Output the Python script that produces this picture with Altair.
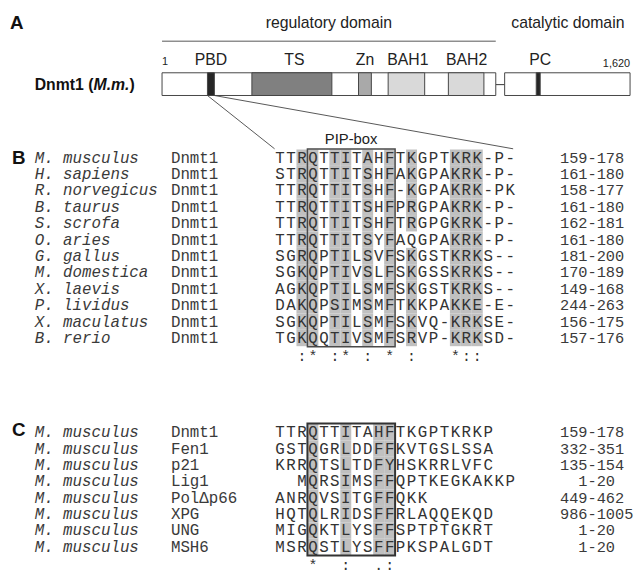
import altair as alt
import pandas as pd

# ---------------- layout constants (page pixel coordinates) ----------------
W, H = 634, 565
xs = alt.Scale(domain=[8, 642], range=[0, W], nice=False, zero=False)
ys = alt.Scale(domain=[8, 573], range=[0, H], nice=False, zero=False)
SANS = "Liberation Sans"
MONO = "Liberation Mono"
INK = "#333333"

# ---------------- Panel A: Dnmt1 domain map ----------------
region_labels = ["regulatory domain", "catalytic domain"]
region_x = [333, 575]
region_y = [20, 20]

seg_names = ["N-part", "C-part", "PBD", "TS", "Zn", "BAH1", "BAH2", "PC"]
seg_start = [164, 511, 210, 255, 363, 393, 454, 543]
seg_end = [502, 638, 217, 336, 376, 430, 490, 547]
seg_fill = ["#ffffff", "#ffffff", "#262626", "#808080", "#a9a9a9", "#d9d9d9", "#d9d9d9", "#262626"]
seg_top, seg_bottom = 70, 93

dom_names = ["PBD", "TS", "Zn", "BAH1", "BAH2", "PC"]
dom_label_x = [213.5, 298, 369.5, 413, 472.5, 547]
dom_label_y = 57

end_labels = ["1", "1,620"]
end_x = [164, 638]
end_y = [59, 61]

# ---------------- Panel B: Dnmt1 orthologues ----------------
B_species = ["M. musculus", "H. sapiens", "R. norvegicus", "B. taurus", "S. scrofa",
             "O. aries", "G. gallus", "M. domestica", "X. laevis", "P. lividus",
             "X. maculatus", "B. rerio"]
B_genes = ["Dnmt1"] * 12
B_seqs = ["TTRQTTITAHFTKGPTKRK-P-", "STRQTTITSHFAKGPAKRK-P-", "TTRQTTITSHF-KGPAKRK-PK",
          "TTRQTTITSHFPRGPAKRK-P-", "TTRQTTITSHFTRGPGKRK-P-", "TTRQTTITSYFAQGPAKRK-P-",
          "SGRQPTILSVFSKGSTKRKS--", "SGKQPTIVSLFSKGSSKRKS--", "AGKQPTILSMFSKGSTKRKS--",
          "DAKQPSIMSMFTKKPAKKE-E-", "SGKQPTILSMFSKVQ-KRKSE-", "TGKQQTIVSMFSRVP-KRKSD-"]
B_ranges = ["159-178", "161-180", "158-177", "161-180", "162-181", "161-180",
            "181-200", "170-189", "149-168", "244-263", "156-175", "157-176"]
B_range_indent = [0] * 12
B_cons = "  :* :* : * :   *::"
B_shaded_cols = [2, 3, 5, 6, 8, 10, 12, 16, 17, 18]
B_unshaded = [(5, 12)]

# ---------------- Panel C: mouse PIP-box proteins ----------------
C_species = ["M. musculus"] * 8
C_genes = ["Dnmt1", "Fen1", "p21", "Lig1", "Pol\u0394p66", "XPG", "UNG", "MSH6"]
C_seqs = ["TTRQTTITAHFTKGPTKRKP", "GSTQGRLDDFFKVTGSLSSA", "KRRQTSLTDFYHSKRRLVFC",
          "  MQRSIMSFFQPTKEGKAKKP", "ANRQVSITGFFQKK", "HQTQLRIDSFFRLAQQEKQD",
          "MIGQKTLYSFFSPTPTGKRT", "MSRQSTLYSFFPKSPALGDT"]
C_ranges = ["159-178", "332-351", "135-154", "1-20", "449-462", "986-1005", "1-20", "1-20"]
C_range_indent = [0, 0, 0, 2, 0, 0, 2, 2]
C_cons = "   *  :  .:"
C_shaded_cols = [3, 6, 9, 10]

# ---------------- alignment geometry ----------------
COL0, PITCH = 283.5, 11.1
SPEC_X, GENE_X, RANGE_X, RANGE_PITCH = 35, 173, 567, 9.3
B_Y0, B_DY = 156.0, 16.6
C_Y0, C_DY = 434.0, 16.6
BOX_C1, BOX_C2 = 3, 10


def col_x(c):
    return COL0 + PITCH * c


def X(f="x"):
    return alt.X(f"{f}:Q", scale=xs, axis=None)


def Y(f="y"):
    return alt.Y(f"{f}:Q", scale=ys, axis=None)


def text_layer(df, align="left", size=16, font=MONO, style="normal", weight="normal", color=INK):
    return alt.Chart(df).mark_text(align=align, baseline="middle", font=font, fontSize=size,
                                   fontStyle=style, fontWeight=weight, color=color).encode(
        x=X(), y=Y(), text="t:N")


layers = []

# Panel A: region line + labels
layers.append(alt.Chart(pd.DataFrame({"x": [164], "x2": [502], "y": [38]})).mark_rule(
    color="#555555", strokeWidth=1).encode(x=X(), x2="x2:Q", y=Y()))
layers.append(text_layer(pd.DataFrame({"t": region_labels, "x": region_x, "y": region_y}),
                         align="center", size=16, font=SANS, color="#222222"))
layers.append(text_layer(pd.DataFrame({"t": dom_names, "x": dom_label_x, "y": [dom_label_y] * 6}),
                         align="center", size=16, font=SANS, color="#222222"))
layers.append(text_layer(pd.DataFrame({"t": end_labels[:1], "x": end_x[:1], "y": end_y[:1]}),
                         align="left", size=11, font=SANS, color="#222222"))
layers.append(text_layer(pd.DataFrame({"t": end_labels[1:], "x": end_x[1:], "y": end_y[1:]}),
                         align="right", size=11, font=SANS, color="#222222"))

# connector between the two halves
layers.append(alt.Chart(pd.DataFrame({"x": [502], "x2": [511], "y": [82]})).mark_rule(
    color="#333333", strokeWidth=1).encode(x=X(), x2="x2:Q", y=Y()))

# domain segments
seg_df = pd.DataFrame({"name": seg_names, "x": seg_start, "x2": seg_end, "fill": seg_fill,
                       "y": [seg_top] * 8, "y2": [seg_bottom] * 8})
layers.append(alt.Chart(seg_df).mark_rect(stroke="#444444", strokeWidth=1).encode(
    x=X(), x2="x2:Q", y=Y(), y2="y2:Q", fill=alt.Fill("fill:N", scale=None)))

# zoom lines from PBD to PIP-box alignment
zl = pd.DataFrame({"x": [seg_start[2], seg_end[2]], "y": [seg_bottom, seg_bottom],
                   "x2": [col_x(0) - 5.5, col_x(21) + 3], "y2": [147, 147]})
layers.append(alt.Chart(zl).mark_rule(color="#444444", strokeWidth=0.9).encode(
    x=X(), y=Y(), x2="x2:Q", y2="y2:Q"))

# panel letters
layers.append(text_layer(pd.DataFrame({"t": ["A", "B", "C"], "x": [10, 12, 12], "y": [20, 156, 432]}),
                         align="left", size=19, font=SANS, weight="bold", color="#111111"))

# Dnmt1 (M.m.)
layers.append(text_layer(pd.DataFrame({"t": ["Dnmt1 (", ")"], "x": [35, 131], "y": [82, 82]}),
                         align="left", size=16, font=SANS, weight="bold", color="#111111"))
layers.append(text_layer(pd.DataFrame({"t": ["M.m."], "x": [94.6], "y": [82]}),
                         align="left", size=16, font=SANS, weight="bold", style="italic", color="#111111"))

# PIP-box label
layers.append(text_layer(pd.DataFrame({"t": ["PIP-box"], "x": [355.5], "y": [137]}),
                         align="center", size=15, font=SANS, color="#222222"))


# ---------------- alignment tables ----------------
def alignment(species, genes, seqs, ranges, indent, cons, shaded_cols, unshaded, y0, dy, box_w, box_col):
    n = len(seqs)
    ys_ = [y0 + dy * i for i in range(n)]
    sh = []
    for i in range(n):
        for c in shaded_cols:
            if (i, c) in unshaded:
                continue
            sh.append({"x": col_x(c) - PITCH / 2, "x2": col_x(c) + PITCH / 2,
                       "y": ys_[i] - dy / 2, "y2": ys_[i] + dy / 2})
    out = [alt.Chart(pd.DataFrame(sh)).mark_rect(color="#c0c0c0").encode(
        x=X(), x2="x2:Q", y=Y(), y2="y2:Q")]
    bx = pd.DataFrame({"x": [col_x(BOX_C1) - PITCH / 2], "x2": [col_x(BOX_C2) + PITCH / 2],
                       "y": [ys_[0] - dy / 2 - 0.5], "y2": [ys_[-1] + dy / 2 + 0.5]})
    out.append(alt.Chart(bx).mark_rect(fill=None, fillOpacity=0, stroke=box_col, strokeWidth=box_w).encode(
        x=X(), x2="x2:Q", y=Y(), y2="y2:Q"))
    out.append(text_layer(pd.DataFrame({"t": species, "x": [SPEC_X] * n, "y": ys_}),
                          size=16, style="italic", color="#3a3a3a"))
    out.append(text_layer(pd.DataFrame({"t": genes, "x": [GENE_X] * n, "y": ys_}),
                          size=16, color="#3a3a3a"))
    out.append(text_layer(pd.DataFrame({"t": ranges,
                                        "x": [RANGE_X + RANGE_PITCH * k for k in indent],
                                        "y": ys_}),
                          size=15.5, color="#3a3a3a"))
    res = []
    for i, s in enumerate(seqs):
        for c, ch in enumerate(s):
            if ch != " ":
                res.append({"t": ch, "x": col_x(c), "y": ys_[i]})
    out.append(text_layer(pd.DataFrame(res), align="center", size=16, color="#333333"))
    cs = [{"t": ch, "x": col_x(c), "y": ys_[-1] + dy * 1.1} for c, ch in enumerate(cons) if ch != " "]
    out.append(text_layer(pd.DataFrame(cs), align="center", size=15, color="#333333"))
    return out


layers += alignment(B_species, B_genes, B_seqs, B_ranges, B_range_indent, B_cons, B_shaded_cols,
                    B_unshaded, B_Y0, B_DY, 1.5, "#4a4a4a")
layers += alignment(C_species, C_genes, C_seqs, C_ranges, C_range_indent, C_cons, C_shaded_cols,
                    [], C_Y0, C_DY, 2, "#333333")

chart = alt.layer(*layers).properties(
    width=W, height=H, padding=0,
    autosize=alt.AutoSizeParams(type="none"),
    background="white",
).configure_view(strokeWidth=0)

chart.save("out.html", embed_options={"renderer": "svg", "actions": False})
